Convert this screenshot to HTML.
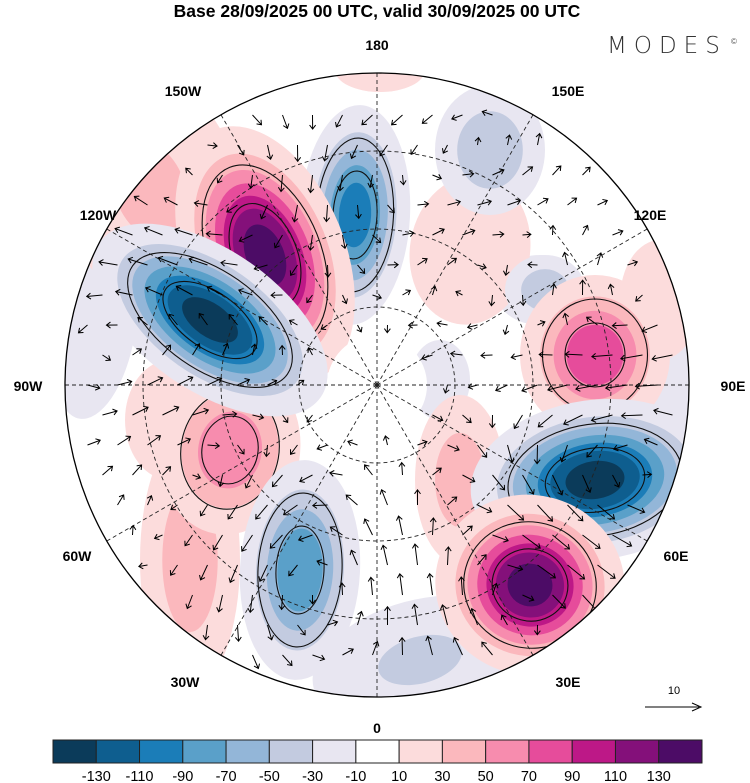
<!DOCTYPE html>
<html><head><meta charset="utf-8">
<style>
body{margin:0;background:#fff;width:750px;height:783px;overflow:hidden;font-family:"Liberation Sans",sans-serif}
svg{position:absolute;left:0;top:0}
</style></head>
<body>
<svg id="s" width="750" height="783" xmlns="http://www.w3.org/2000/svg">
<text x="377" y="17" text-anchor="middle" font-size="17.5" font-weight="bold">Base 28/09/2025 00 UTC, valid 30/09/2025 00 UTC</text>
<text x="607" y="53" font-size="23" fill="#333" letter-spacing="7" font-family="DejaVu Sans, sans-serif" font-weight="300">MODES</text>
<text x="731" y="44" font-size="8" fill="#555">©</text>
<defs><clipPath id="cp"><circle cx="377" cy="385" r="312"/></clipPath></defs>
<g id="map" clip-path="url(#cp)"><rect x="0" y="0" width="750" height="783" fill="#fff"/></g>
<circle cx="377" cy="385" r="312" fill="none" stroke="#000" stroke-width="1.3"/>
<g id="labels" font-size="14" font-weight="bold" text-anchor="middle"></g>
<g id="cbar"></g>
<g>
<text x="674" y="694" font-size="11" text-anchor="middle">10</text>
<line x1="645" y1="707" x2="699" y2="707" stroke="#000" stroke-width="1"/>
<path d="M692,703 L701,707 L692,711" fill="none" stroke="#000"/>
</g>
</svg>
<script>
const NS="http://www.w3.org/2000/svg";
const levels=[-130,-110,-90,-70,-50,-30,-10,10,30,50,70,90,110,130];
const colors=["#0b3b5a","#0e5e8f","#1b7db8","#5aa0c9","#93b6d8","#c3cbe0","#e8e6f1","#ffffff","#fcdcdc","#fbb8bd","#f78cae","#e64c9b","#bd1887","#84107a","#4c0c66"];
// anomaly blobs: cx, cy, extent rx, ry, rotation(deg), peak value
const blobX=[150,95,650,420,190,470,380,170,660,540,265,210,355,595,530,595,300,230,490,545,460,440];
const blobY=[190,330,420,660,560,250,70,420,300,290,255,320,215,480,585,355,570,450,150,290,480,380];
const blobRX=[90,40,50,110,50,60,45,45,40,45,80,135,55,125,95,75,60,70,55,40,45,30];
const blobRY=[130,90,110,60,130,75,22,60,60,35,135,70,110,80,90,80,110,85,65,35,85,40];
const blobRot=[-20,10,0,-15,0,10,0,0,0,0,-22,35,3,-8,15,0,3,10,0,0,0,0];
const blobVal=[35,-25,-25,-35,45,30,30,25,30,-25,145,-145,-105,-145,145,90,-90,70,-50,-50,45,-30];
const labelText=["180","150E","120E","90E","60E","30E","0","30W","60W","90W","120W","150W"];
const labelX=[377,568,650,733,676,568,377,185,77,28,98,183];
const labelY=[50,96,220,391,561,687,733,687,561,391,220,96];

const map=document.getElementById('map');
function mk(tag,attrs,parent){const e=document.createElementNS(NS,tag);for(const k in attrs)e.setAttribute(k,attrs[k]);parent.appendChild(e);return e;}
function colorFor(v){let i=0;while(i<levels.length&&v>=levels[i])i++;return colors[i];}
const order=blobVal.map((v,i)=>i).sort((a,b)=>Math.abs(blobVal[a])-Math.abs(blobVal[b]));
order.forEach(i=>{
  const v=blobVal[i],a=Math.abs(v),sg=Math.sign(v);
  const g=mk('g',{transform:`translate(${blobX[i]},${blobY[i]}) rotate(${blobRot[i]})`},map);
  
  
  for(let L=10;L<a;L+=20){
    const s=Math.pow(Math.log(a/L)/Math.log(a/10),0.45);
    const e=mk('ellipse',{cx:0,cy:0,rx:blobRX[i]*s,ry:blobRY[i]*s,fill:colorFor(sg*(L+1))},g);
    
    
  }
  if(a>60){[0.4,0.7].forEach(f=>{const e=mk('ellipse',{cx:0,cy:0,rx:blobRX[i]*f,ry:blobRY[i]*f,fill:'none',stroke:'#111','stroke-width':1.1},g);
    });}
});
const cap=mk('circle',{cx:377,cy:385,r:50,fill:'#fff'},map);

[78,156,234].forEach(r=>{const c=mk('circle',{cx:377,cy:385,r:r,fill:'none',stroke:'#222','stroke-width':0.9,'stroke-dasharray':'4,3'},map);
  });
for(let k=0;k<12;k++){const an=k*Math.PI/6;
  const l=mk('line',{x1:377,y1:385,x2:377+320*Math.sin(an),y2:385-320*Math.cos(an),stroke:'#222','stroke-width':0.9,'stroke-dasharray':'4,3'},map);
  }
function wind(x,y){let u=0,w=0;for(let i=0;i<blobX.length;i++){const dx=x-blobX[i],dy=y-blobY[i];const R=(blobRX[i]+blobRY[i])/2;
  const f=Math.exp(-(dx*dx+dy*dy)/(2*R*R))*blobVal[i]/R;u+=-dy*f;w+=dx*f;}return [u,w];}
for(let y=85;y<700;y+=30)for(let x=75;x<690;x+=30){
  const xx=x+((y/30)%2)*15;const d=Math.hypot(xx-377,y-385);if(d>300||d<50)continue;
  let [u,w]=wind(xx,y);const m=Math.hypot(u,w);if(m<1)continue;const L=Math.min(22,7+m*0.15);u/=m;w/=m;
  const x2=xx+u*L,y2=y+w*L;
  const a=mk('path',{d:`M${xx},${y}L${x2},${y2}M${x2-u*4-w*3},${y2-w*4+u*3}L${x2},${y2}L${x2-u*4+w*3},${y2-w*4-u*3}`,fill:'none',stroke:'#000','stroke-width':1},map);
  
}
const lg=document.getElementById('labels');
labelText.forEach((t,i)=>{const e=mk('text',{x:labelX[i],y:labelY[i]},lg);e.textContent=t;
  });
const cb=document.getElementById('cbar');

const x0=53,x1=702,bw=(x1-x0)/colors.length;
colors.forEach((c,i)=>{const r=mk('rect',{x:x0+i*bw,y:740,width:bw,height:23,fill:c,stroke:'#222','stroke-width':1},cb);
  });
levels.forEach((v,i)=>{const t=mk('text',{x:x0+(i+1)*bw,y:781,'font-size':14.5,'text-anchor':'middle'},cb);t.textContent=v;
  });
</script>
</body></html>
